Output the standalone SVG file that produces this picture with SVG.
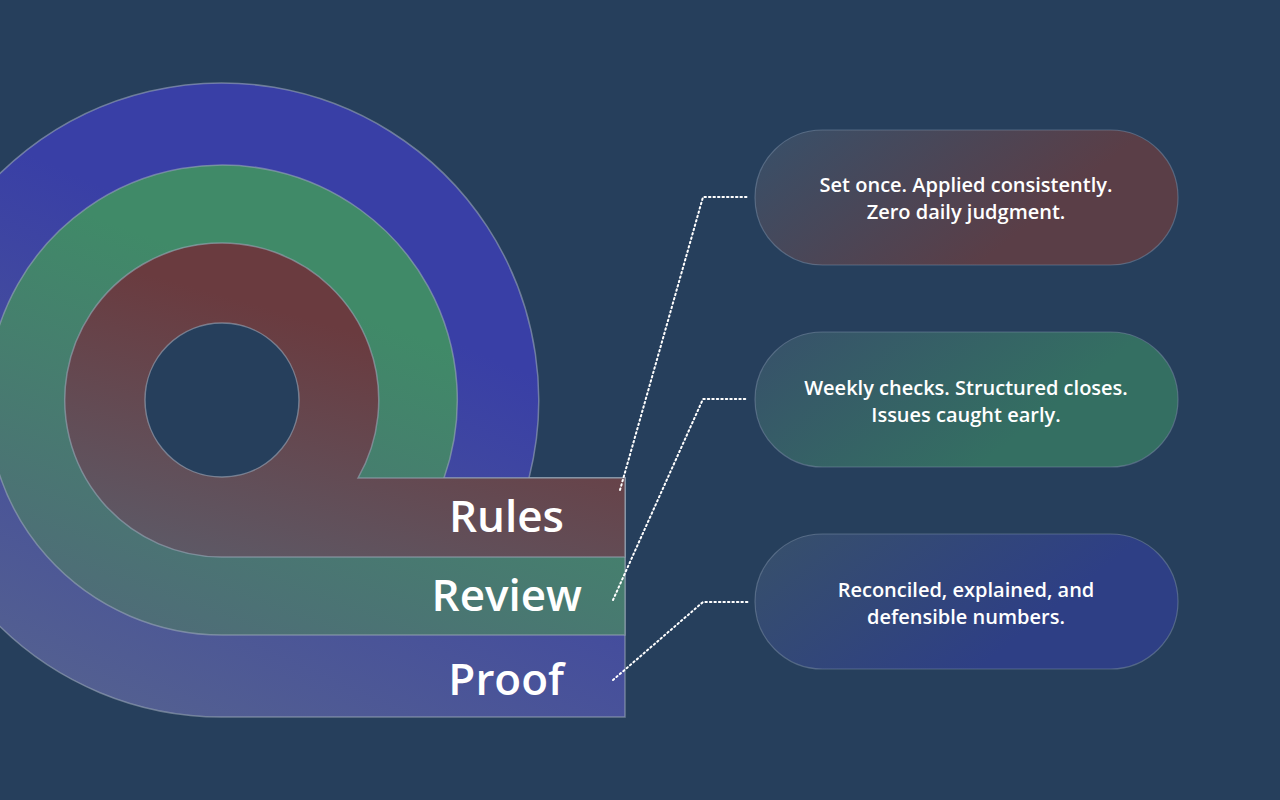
<svg xmlns="http://www.w3.org/2000/svg" width="1280" height="800" viewBox="0 0 1280 800">
<defs>
<linearGradient id="gb" x1="0.7" y1="0" x2="0.2" y2="1"><stop offset="0.3" stop-color="#393fa6"/><stop offset="1" stop-color="#55628f"/></linearGradient>
<linearGradient id="gg" x1="0.7" y1="0" x2="0.2" y2="1"><stop offset="0.3" stop-color="#408a68"/><stop offset="1" stop-color="#4f6b78"/></linearGradient>
<linearGradient id="gr" x1="0.7" y1="0" x2="0.2" y2="1"><stop offset="0.3" stop-color="#6a3b3f"/><stop offset="1" stop-color="#5d5966"/></linearGradient>
<linearGradient id="p1" x1="0" y1="0" x2="1" y2="0.4"><stop offset="0" stop-color="#37506a"/><stop offset="0.8" stop-color="#5a3e47"/></linearGradient>
<linearGradient id="p2" x1="0" y1="0" x2="1" y2="0.4"><stop offset="0" stop-color="#37506a"/><stop offset="0.8" stop-color="#346f62"/></linearGradient>
<linearGradient id="p3" x1="0" y1="0" x2="1" y2="0.4"><stop offset="0" stop-color="#37506a"/><stop offset="0.8" stop-color="#2e3f85"/></linearGradient>
<style>
.band{stroke:#9aa6b8;stroke-opacity:0.6;stroke-width:1.5}
.lbl{font-family:"Open Sans","Noto Sans",sans-serif;font-size:44px;fill:#fff;text-anchor:end;font-weight:600}
.pill{stroke:#7d8fa8;stroke-opacity:0.5;stroke-width:1.2}
.pt{font-family:"Open Sans","Noto Sans",sans-serif;font-size:20px;fill:#fff;text-anchor:middle;font-weight:600}
.con{fill:none;stroke:#fff;stroke-width:2;stroke-dasharray:1.5 3;stroke-linecap:round}
</style>
</defs>
<rect width="1280" height="800" fill="#263f5c"/>
<g id="proof"><path class="band" fill="url(#gb)" d="M222,717 H625 V478 H529 A317 317 0 1 0 222,717 Z"/><text class="lbl" x="564" y="695">Proof</text></g>
<g id="review"><path class="band" fill="url(#gg)" d="M222,635 H625 V478 H444 A235 235 0 1 0 222,635 Z"/><text class="lbl" x="582" y="611">Review</text></g>
<g id="rules"><path class="band" fill="url(#gr)" d="M222,557 H625 V478 H358 A157 157 0 1 0 222,557 Z"/><circle class="band" cx="222" cy="400" r="77" fill="#263f5c"/><text class="lbl" x="564" y="532">Rules</text></g>
<g id="connectors">
<path class="con" d="M620,490 L703,197 H748"/>
<path class="con" d="M613,600 L703,399 H748"/>
<path class="con" d="M613,680 L703,602 H748"/>
</g>
<g id="pill1"><rect class="pill" x="755" y="130" width="423" height="135" rx="67.5" fill="url(#p1)"/><text class="pt" x="966" y="192">Set once. Applied consistently.</text><text class="pt" x="966" y="219">Zero daily judgment.</text></g>
<g id="pill2"><rect class="pill" x="755" y="332" width="423" height="135" rx="67.5" fill="url(#p2)"/><text class="pt" x="966" y="395">Weekly checks. Structured closes.</text><text class="pt" x="966" y="422">Issues caught early.</text></g>
<g id="pill3"><rect class="pill" x="755" y="534" width="423" height="135" rx="67.5" fill="url(#p3)"/><text class="pt" x="966" y="597">Reconciled, explained, and</text><text class="pt" x="966" y="624">defensible numbers.</text></g>
</svg>
